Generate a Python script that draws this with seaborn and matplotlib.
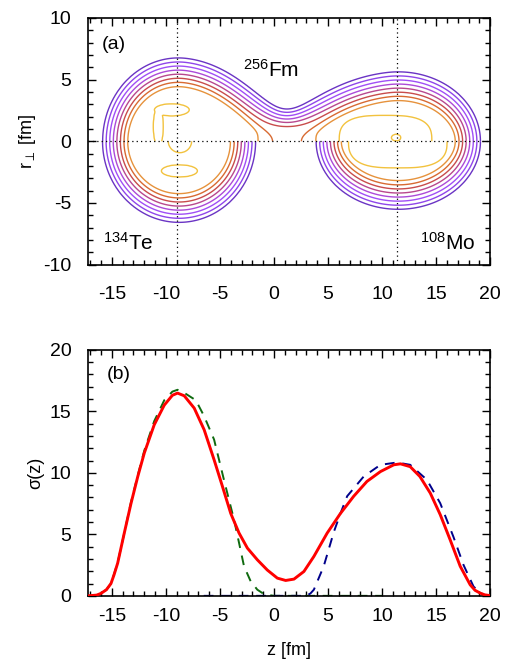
import numpy as np
import pandas as pd
import matplotlib
matplotlib.use("Agg")
import matplotlib.pyplot as plt
import seaborn as sns
from matplotlib.ticker import MultipleLocator
import contourpy

# ---------------- panel (a): shape parameters ----------------
# fissioning 256Fm (upper half): two lobes joined by a neck
lobe_up_z = [-8.85, 11.5]      # lobe centres (fm)
lobe_up_az = [7.0, 7.6]        # half-length along z of outer contour
lobe_up_ar = [6.76, 5.63]      # half-width along r of outer contour
neck_z = 1.2                   # neck position
neck_r = 2.62                  # outer contour radius at the neck
# separated fragments (lower half): 134Te and 108Mo
frag_z = [-8.78, 11.5]
frag_az = [7.08, 7.6]
frag_ar = [6.57, 5.51]
# contour levels and colours (outer -> inner)
level_values = [0.0, 0.33, 0.66, 0.99, 1.32, 1.65, 1.98, 2.31, 2.64]
level_colors = ["#6a34c4", "#8f45ea", "#a04ef6", "#ac4ad8", "#b8488e",
                "#c84c4c", "#d86a32", "#e6923c", "#f2c23e"]
# inner density islands
isl_z = [-10.7, -9.45, 10.3, 11.3, -8.7, -8.75, 11.45]
isl_r = [1.2, 2.55, 0.0, 0.3, 0.0, -2.4, 0.0]
isl_hz = [0.42, 1.5, 4.1, 0.45, 1.0, 1.55, 4.35]
isl_hr = [1.5, 0.45, 2.0, 0.28, 0.85, 0.45, 2.05]
isl_p = [2, 2, 3, 2, 2, 2, 3]
isl_amp = [0.4, 0.4, 0.4, -0.5, 0.4, 0.4, 0.4]
isl_half = ["up", "up", "up", "up", "low", "low", "low"]
line_z = [-9.0, 11.4]          # dotted vertical lines (fragment centres)

# ---------------- panel (b): sigma(z) ----------------
z_tot = [-17.2, -16.4, -16.0, -15.5, -15.08, -14.8, -14.46, -13.85, -13.23, -12.6, -12.0,
         -11.08, -10.15, -9.4, -8.92, -8.3, -7.38, -6.46, -5.54, -4.77, -4.0, -3.23,
         -2.46, -1.54, -0.62, 0.31, 1.08, 1.85, 2.77, 3.69, 4.92, 6.15, 7.38, 8.6,
         9.85, 11.08, 11.7, 12.6, 13.5, 14.46, 15.38, 16.3, 17.23, 18.15, 18.6,
         19.08, 19.5, 20.0]
s_tot = [0.0, 0.06, 0.2, 0.5, 1.0, 1.7, 2.66, 5.1, 7.5, 9.7, 11.6,
         13.9, 15.5, 16.3, 16.48, 16.26, 15.26, 13.5, 11.06, 8.9, 6.7, 5.1,
         3.88, 2.93, 2.1, 1.44, 1.25, 1.36, 1.98, 3.2, 5.1, 6.7, 8.1, 9.3,
         10.1, 10.65, 10.73, 10.5, 9.7, 8.35, 6.6, 4.55, 2.4, 0.9, 0.45,
         0.22, 0.08, 0.02]
z_te = [-17.2, -16.4, -16.0, -15.5, -15.08, -14.8, -14.46, -13.85, -13.23, -12.6, -12.0,
        -11.08, -10.15, -9.4, -8.92, -8.3, -7.23, -6.46, -5.54, -4.62, -3.7, -3.23,
        -2.77, -2.15, -1.54, -0.92, 0.0, 10.0]
s_te = [0.0, 0.06, 0.2, 0.5, 1.0, 1.75, 2.7, 5.1, 7.6, 9.8, 11.8,
        14.2, 15.9, 16.6, 16.75, 16.5, 15.9, 14.6, 12.7, 9.4, 6.2, 4.3,
        2.4, 1.17, 0.5, 0.14, 0.0, 0.0]
z_mo = [-6.5, 3.0, 3.38, 3.69, 4.6, 5.54, 6.15, 6.77, 8.3, 9.85, 11.38, 12.6,
        14.15, 15.38, 16.6, 17.54, 18.46, 19.0, 19.4, 20.0]
s_mo = [0.0, 0.0, 0.2, 0.5, 2.4, 5.2, 6.7, 8.1, 9.7, 10.65, 10.84, 10.65,
        9.43, 7.53, 4.8, 2.5, 0.76, 0.3, 0.08, 0.0]


# ---------------- build the density-like field for panel (a) ----------------
def ell_sdf(Z, R, cz, az, ar):
    pz = (Z - cz) / az
    pr = R / ar
    k0 = np.hypot(pz, pr)
    k1 = np.hypot(pz / az, pr / ar)
    return k0 * (k0 - 1.0) / np.maximum(k1, 1e-9)


def smin(a, b, k):
    h = np.clip(0.5 + 0.5 * (b - a) / k, 0.0, 1.0)
    return b * (1 - h) + a * h - k * h * (1 - h)


def softmin(a, c, beta):
    return -np.logaddexp(-beta * a, -beta * c) / beta


def up_raw(Z, R, k):
    e1 = ell_sdf(Z, R, lobe_up_z[0], lobe_up_az[0], lobe_up_ar[0])
    e2 = ell_sdf(Z, R, lobe_up_z[1], lobe_up_az[1], lobe_up_ar[1])
    return smin(e1, e2, k)


# blend strength chosen so the outer contour passes through the neck point
lo, hi = 0.01, 40.0
for _ in range(60):
    mid = 0.5 * (lo + hi)
    if up_raw(np.array(neck_z), np.array(neck_r), mid) > 0:
        lo = mid
    else:
        hi = mid
k_blend = 0.5 * (lo + hi)


def up_sdf(Z, R):
    return up_raw(Z, R, k_blend)


def low_sdf(Z, R):
    e1 = ell_sdf(Z, R, frag_z[0], frag_az[0], frag_ar[0])
    e2 = ell_sdf(Z, R, frag_z[1], frag_az[1], frag_ar[1])
    return np.minimum(e1, e2)


def signed_distance(sdf, zg, rg):
    zz = np.arange(-20.0, 23.0001, 0.04)
    rr = np.arange(-11.0, 11.0001, 0.04)
    ZF, RF = np.meshgrid(zz, rr)
    F = sdf(ZF, RF)
    lines = contourpy.contour_generator(zz, rr, F).lines(0.0)
    pts = np.vstack([l for l in lines if len(l) > 1])
    Z, R = np.meshgrid(zg, rg)
    D = np.empty_like(Z)
    for i in range(Z.shape[0]):
        dz = Z[i][:, None] - pts[None, :, 0]
        dr = R[i][:, None] - pts[None, :, 1]
        D[i] = np.sqrt((dz * dz + dr * dr).min(axis=1))
    inside = sdf(Z, R) < 0
    return np.where(inside, -D, D), Z, R


def islands(Z, R, half):
    pos = np.zeros_like(Z)
    neg = np.zeros_like(Z)
    for cz, cr, hz, hr, p, amp, h in zip(isl_z, isl_r, isl_hz, isl_hr, isl_p, isl_amp, isl_half):
        if h != half:
            continue
        q = np.abs((Z - cz) / hz) ** p + np.abs((R - cr) / hr) ** p
        b = amp / (1.0 + np.exp(np.clip(-8.0 * (1.0 - q), -50, 50)))
        if amp > 0:
            pos = np.maximum(pos, b)
        else:
            neg = neg + b
    return pos + neg


zg = np.arange(-17.2, 20.0001, 0.08)
rg_up = np.linspace(0.0, 10.0, 126)
rg_low = np.linspace(-10.0, 0.0, 126)

D_up, Zu, Ru = signed_distance(up_sdf, zg, rg_up)
x_up = -D_up
w = np.exp(-((Zu - neck_z) / 2.5) ** 2)
phi_up = (1 - w) * softmin(x_up, 2.55, 8.0) + w * softmin(1.22 * x_up, 1.8, 6.0)
phi_up = phi_up + islands(Zu, Ru, "up")

D_low, Zl, Rl = signed_distance(low_sdf, zg, rg_low)
phi_low = softmin(-D_low, 2.55, 8.0) + islands(Zl, Rl, "low")

# ---------------- styling ----------------
sns.set_theme(style="ticks")
plt.rcParams["font.family"] = ["Liberation Sans", "DejaVu Sans"]
plt.rcParams["mathtext.fontset"] = "custom"
plt.rcParams["mathtext.rm"] = "Liberation Sans"
plt.rcParams["mathtext.it"] = "Liberation Sans:italic"
plt.rcParams["axes.unicode_minus"] = False
for key in ["text.color", "axes.labelcolor", "xtick.color", "ytick.color", "axes.edgecolor"]:
    plt.rcParams[key] = "black"

fig = plt.figure(figsize=(5.09, 6.65), dpi=100)
ax1 = fig.add_axes([0.173, 0.602, 0.790, 0.371])
ax2 = fig.add_axes([0.173, 0.104, 0.790, 0.370])

# ---- panel (a)
ax1.contour(zg, rg_up, phi_up, levels=level_values, colors=level_colors, linewidths=1.0)
ax1.contour(zg, rg_low, phi_low, levels=level_values, colors=level_colors, linewidths=1.0)
dot = (0, (1, 2.5))
for zl in line_z:
    ax1.axvline(zl, color="black", lw=0.9, ls=dot, zorder=3)
ax1.axhline(0.0, color="black", lw=0.9, ls=dot, zorder=3)
ax1.set_xlim(-17.2, 20)
ax1.set_ylim(-10, 10)
ax1.set_xticks([-15, -10, -5, 0, 5, 10, 15, 20])
ax1.set_yticks([-10, -5, 0, 5, 10])
ax1.set_ylabel(r"r$_{\perp}$ [fm]", fontsize=13, labelpad=4)
ax1.text(-15.9, 7.85, "(a)", fontsize=14, ha="left", va="center")
ax1.text(-2.9, 5.25, r"$\mathregular{^{256}}$Fm", fontsize=15, ha="left", va="baseline")
ax1.text(-15.8, -8.8, r"$\mathregular{^{134}}$Te", fontsize=15, ha="left", va="baseline")
ax1.text(13.5, -8.8, r"$\mathregular{^{108}}$Mo", fontsize=15, ha="left", va="baseline")

# ---- panel (b)
sns.lineplot(x=z_te, y=s_te, ax=ax2, color="#0f6a0f", lw=1.4, linestyle=(0, (5, 4)),
             estimator=None, sort=False, zorder=2)
sns.lineplot(x=z_mo, y=s_mo, ax=ax2, color="#00008b", lw=1.4, linestyle=(0, (5, 4)),
             estimator=None, sort=False, zorder=2)
sns.lineplot(x=z_tot, y=s_tot, ax=ax2, color="#ff0000", lw=2.1,
             estimator=None, sort=False, zorder=3)
ax2.set_xlim(-17.2, 20)
ax2.set_ylim(0, 20)
ax2.set_xticks([-15, -10, -5, 0, 5, 10, 15, 20])
ax2.set_yticks([0, 5, 10, 15, 20])
ax2.set_xlabel("z [fm]", fontsize=13, labelpad=12)
ax2.set_ylabel("σ(z)", fontsize=13, labelpad=4)
ax2.text(-15.5, 18.0, "(b)", fontsize=14, ha="left", va="center")

for ax in (ax1, ax2):
    ax.xaxis.set_minor_locator(MultipleLocator(1))
    ax.yaxis.set_minor_locator(MultipleLocator(1))
    ax.tick_params(which="both", direction="in", top=True, right=True,
                   labelsize=14, width=1.0, color="black")
    ax.tick_params(which="major", length=5.8)
    ax.tick_params(which="minor", length=3.6)
    ax.tick_params(axis="y", which="major", pad=12)
    for sp in ax.spines.values():
        sp.set_linewidth(1.2)
        sp.set_color("black")
ax1.tick_params(axis="x", which="major", pad=15)
ax2.tick_params(axis="x", which="major", pad=9)

fig.savefig("out.png", dpi=100)
